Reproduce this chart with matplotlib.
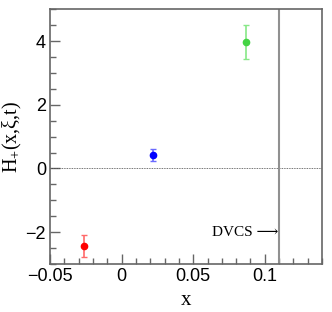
import matplotlib
matplotlib.use("Agg")
import matplotlib.pyplot as plt
from matplotlib.ticker import MultipleLocator

plt.rcParams["mathtext.fontset"] = "custom"
plt.rcParams["mathtext.rm"] = "Liberation Serif"
plt.rcParams["mathtext.it"] = "Liberation Serif"
plt.rcParams["mathtext.bf"] = "Liberation Serif:bold"

# data
x_vals = [-0.0263, 0.0218, 0.0867]
h_vals = [-2.43, 0.42, 3.97]
h_errs = [0.35, 0.18, 0.54]
colors = ["#ff0000", "#0000ff", "#44d444"]
err_colors = ["#ff6a6a", "#6a6aff", "#88e888"]
x_dvcs = 0.11

fig = plt.figure(figsize=(3.32, 3.12), dpi=100)
ax = fig.add_axes([0.151, 0.154, 0.819, 0.816])

for x, h, e, c, ec in zip(x_vals, h_vals, h_errs, colors, err_colors):
    ax.errorbar([x], [h], yerr=[e], fmt="o", color=c, ecolor=ec,
                markersize=4.5, elinewidth=1.2, capsize=2, capthick=1)

ax.axhline(0, color="#444444", linestyle=(0, (1, 1)), linewidth=0.6)
ax.axvline(x_dvcs, color="#909090", linewidth=1.5)
ax.text(x_dvcs - 0.0003, -2.0, "DVCS \u27f6", ha="right", va="center",
        family=["Liberation Serif", "DejaVu Serif", "DejaVu Sans"], fontsize=11)

ax.set_xlim(-0.05, 0.14)
ax.set_ylim(-3, 5)
ax.xaxis.set_major_locator(MultipleLocator(0.05))
ax.xaxis.set_minor_locator(MultipleLocator(0.01))
ax.yaxis.set_major_locator(MultipleLocator(2))
ax.yaxis.set_minor_locator(MultipleLocator(0.5))
ax.set_xticks([-0.05, 0, 0.05, 0.1])
ax.set_xticklabels(["\u22120.05", "0", "0.05", "0.1"])
ax.set_yticks([-2, 0, 2, 4])
ax.set_yticklabels(["\u22122", "0", "2", "4"])

ax.tick_params(which="both", direction="in", top=False, right=False,
               color="#666666", labelsize=13, pad=3)
ax.tick_params(which="major", length=7, width=1)
ax.tick_params(which="minor", length=4, width=1)
for lbl in ax.get_xticklabels() + ax.get_yticklabels():
    lbl.set_family("Liberation Sans")

for s in ax.spines.values():
    s.set_color("#666666")
    s.set_linewidth(1.2)

ax.set_xlabel("x", family="Liberation Serif", fontsize=15, labelpad=4)
ax.set_ylabel("H$_{+}$(x,\u03be,t)", family="Liberation Serif", fontsize=14.5,
              labelpad=1)

fig.savefig("out.png", dpi=100)
